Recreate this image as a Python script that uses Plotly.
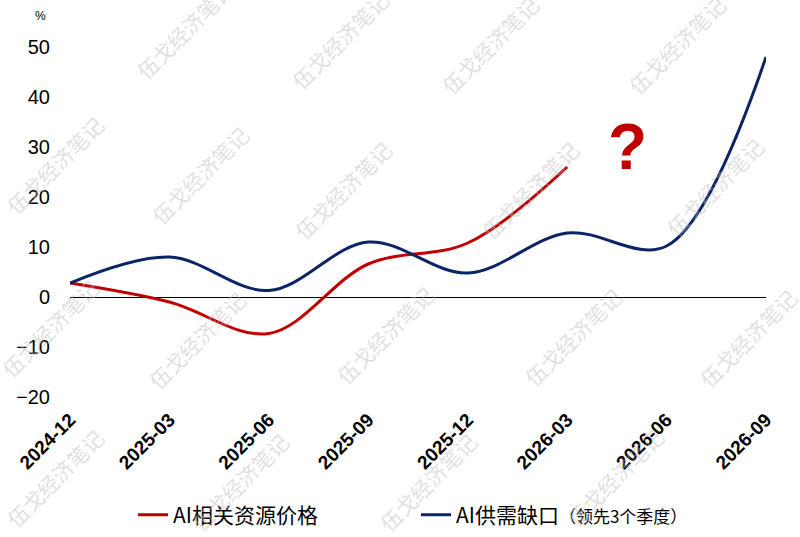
import plotly.graph_objects as go

quarters = ["2024-12", "2025-03", "2025-06", "2025-09", "2025-12", "2026-03", "2026-06", "2026-09"]
price_values = [2.8, -1.0, -7.3, 6.6, 10.8, 26.0, None, None]
gap_values = [2.8, 8.0, 1.3, 11.0, 4.8, 12.8, 10.2, 48.0]

price_name = "AI相关资源价格"
gap_name = "AI供需缺口<span style='font-size:17px'>（领先3个季度）</span>"

RED = "#C00000"
NAVY = "#0B2465"

W, H = 800, 537
ML, MR, MT, MB = 70, 34, 47, 140
PW, PH = W - ML - MR, H - MT - MB

fig = go.Figure()
fig.add_trace(go.Scatter(
    x=quarters, y=price_values, name=price_name, mode="lines",
    line=dict(color=RED, width=3, shape="spline", smoothing=1.0),
    legend="legend", connectgaps=False,
))
fig.add_trace(go.Scatter(
    x=quarters, y=gap_values, name=gap_name, mode="lines",
    line=dict(color=NAVY, width=3, shape="spline", smoothing=1.0),
    legend="legend2",
))

# watermark positions (pixels) – decoration only
wm_px = [
    (185, 30), (340, 40), (490, 45), (677, 45),
    (55, 165), (200, 175), (343, 190), (530, 190), (715, 187),
    (50, 328), (197, 340), (385, 335), (573, 337), (748, 338),
    (55, 478), (240, 482), (428, 482), (615, 477),
]
annotations = []
for px, py in wm_px:
    annotations.append(dict(
        text="伍戈经济笔记", x=(px - ML) / PW, y=(H - MB - py) / PH,
        xref="paper", yref="paper", showarrow=False, textangle=-45,
        xanchor="center", yanchor="middle",
        font=dict(family="Noto Sans CJK SC", size=21, color="rgba(185,185,185,0.45)"),
    ))

annotations.append(dict(
    text="<b>?</b>", x=5.61, y=30, xref="x", yref="y", showarrow=False,
    font=dict(family="Liberation Sans, Arial", size=64, color=RED),
))
annotations.append(dict(
    text="%", x=(40 - ML) / PW, y=(H - MB - 16) / PH, xref="paper", yref="paper",
    xanchor="center", yanchor="middle",
    showarrow=False, font=dict(family="Liberation Sans, Arial", size=12, color="#000"),
))

fig.update_layout(
    width=W, height=H,
    margin=dict(l=ML, r=MR, t=MT, b=MB, autoexpand=False),
    paper_bgcolor="white", plot_bgcolor="white",
    showlegend=True,
    legend=dict(
        orientation="h", x=(133 - ML) / PW, xanchor="left",
        y=(H - MB - 515) / PH, yanchor="middle",
        font=dict(family="Noto Sans CJK SC", size=21, color="#000"),
        itemwidth=30, bgcolor="rgba(0,0,0,0)",
    ),
    legend2=dict(
        orientation="h", x=(416 - ML) / PW, xanchor="left",
        y=(H - MB - 515) / PH, yanchor="middle",
        font=dict(family="Noto Sans CJK SC", size=21, color="#000"),
        itemwidth=30, bgcolor="rgba(0,0,0,0)",
    ),
    annotations=annotations,
    xaxis=dict(
        type="category", range=[0, 7], showgrid=False, showline=False,
        zeroline=False, tickangle=-45, ticks="", ticklabelstandoff=7,
        automargin=False,
        tickfont=dict(family="Liberation Sans, Arial", size=19, color="#000", weight="bold"),
    ),
    yaxis=dict(
        range=[-20, 50], dtick=10, tick0=0, showgrid=False, showline=False,
        zeroline=True, zerolinecolor="#000", zerolinewidth=1.2,
        ticks="", ticklabelstandoff=19, automargin=False,
        tickfont=dict(family="Liberation Sans, Arial", size=20, color="#000"),
    ),
)

fig.write_html(
    "out.html",
    config={"displayModeBar": False},
    post_script="document.body.style.margin='0';document.body.style.overflow='hidden';",
)
